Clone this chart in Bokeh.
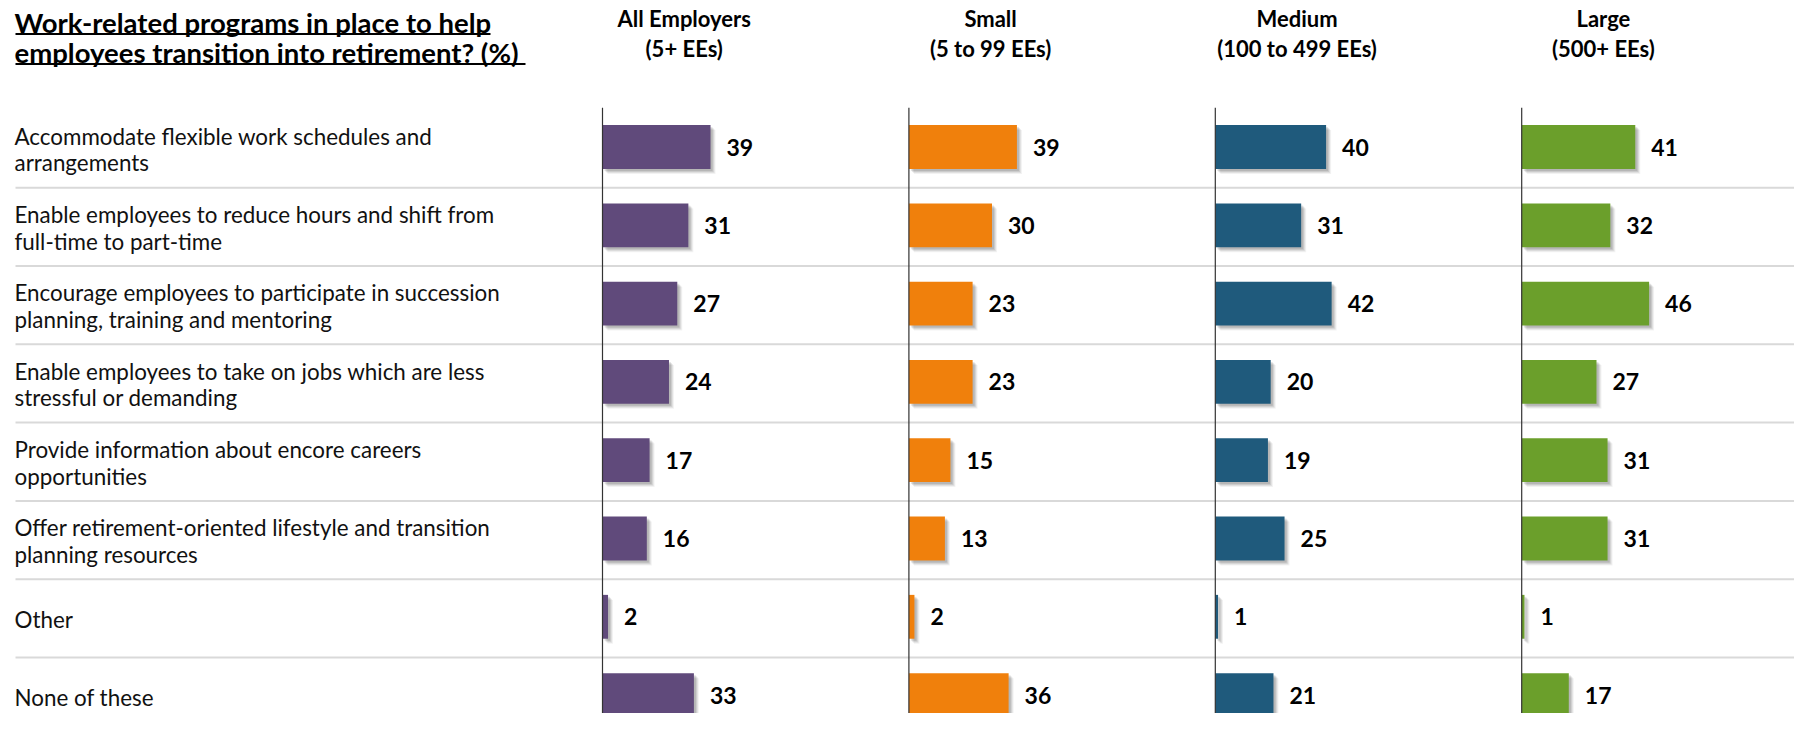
from bokeh.plotting import figure
from bokeh.models import Range1d, ColumnDataSource
from bokeh.embed import file_html
from bokeh.resources import INLINE
from bokeh.core.properties import value

# ---------------- data ----------------
title_lines = ["Work-related programs in place to help",
               "employees transition into retirement? (%)"]
categories = [
    "Accommodate flexible work schedules and\narrangements",
    "Enable employees to reduce hours and shift from\nfull-time to part-time",
    "Encourage employees to participate in succession\nplanning, training and mentoring",
    "Enable employees to take on jobs which are less\nstressful or demanding",
    "Provide information about encore careers\nopportunities",
    "Offer retirement-oriented lifestyle and transition\nplanning resources",
    "Other",
    "None of these",
]
group_names = ["All Employers", "Small", "Medium", "Large"]
group_sizes = ["(5+ EEs)", "(5 to 99 EEs)", "(100 to 499 EEs)", "(500+ EEs)"]
all_employers = [39, 31, 27, 24, 17, 16, 2, 33]
small = [39, 30, 23, 23, 15, 13, 2, 36]
medium = [40, 31, 42, 20, 19, 25, 1, 21]
large = [41, 32, 46, 27, 31, 31, 1, 17]
series = [all_employers, small, medium, large]
colors = ["#604A7B", "#F0800C", "#1F5A7C", "#6B9F2B"]

# ---------------- layout constants (pixels of the picture) ----------------
W, H = 1794, 713
ROW0, ROW_H = 146.5, 78.3
PX_UNIT = 2.77
AXIS0, STEP = 602.0, 306.4
BAR_H = 0.56
FONT = "Lato"


def ry(px):
    return (px - ROW0) / ROW_H


p = figure(width=W, height=H, output_backend="svg", toolbar_location=None,
           x_range=Range1d(0, W), y_range=Range1d(ry(H), ry(0)),
           min_border=0, min_border_left=0, min_border_right=0,
           min_border_top=0, min_border_bottom=0)
p.axis.visible = False
p.grid.visible = False
p.outline_line_color = None
p.background_fill_color = "white"
p.border_fill_color = "white"

rows = list(range(len(categories)))

# separators
seps = rows[:-1]
p.segment(x0=15, x1=W, y0=[r + 0.52 for r in seps], y1=[r + 0.52 for r in seps],
          line_color="#D9D9D9", line_width=2)

# title with underline
p.text(x=14, y=[ry(22), ry(52)], text=title_lines, text_font=value(FONT),
       text_font_style="bold", text_font_size="27.5px", text_baseline="middle",
       text_color="black")
p.segment(x0=15, x1=[490, 525], y0=[ry(33.5), ry(63.5)], y1=[ry(33.5), ry(63.5)],
          line_color="black", line_width=2)

# category labels
lx, ly, lt = [], [], []
for r, cat in zip(rows, categories):
    lines = cat.split("\n")
    n = len(lines)
    for j, ln in enumerate(lines):
        lx.append(14)
        ly.append(r + (2.5 + (j - (n - 1) / 2) * 26.7) / ROW_H)
        lt.append(ln)
p.text(x=lx, y=ly, text=lt, text_font=value(FONT), text_font_size="22.4px",
       text_baseline="middle", text_color="#111111")

# panels
for k, (name, size, vals, col) in enumerate(zip(group_names, group_sizes, series, colors)):
    a = AXIS0 + k * STEP
    rname = "g%d" % k
    p.extra_x_ranges[rname] = Range1d(-a / PX_UNIT, (W - a) / PX_UNIT)
    src = ColumnDataSource(dict(y=rows, v=vals, lab=[str(v) for v in vals]))
    # soft shadow
    for d, al in [(5, 0.05), (4, 0.07), (3, 0.09), (2, 0.10)]:
        p.hbar(y=[r + d / ROW_H for r in rows], left=d / PX_UNIT,
               right=[v + d / PX_UNIT for v in vals], height=BAR_H,
               fill_color="black", fill_alpha=al, line_color=None, x_range_name=rname)
    p.hbar(y="y", left=0, right="v", height=BAR_H, source=src, fill_color=col,
           line_color=None, x_range_name=rname)
    p.text(x="v", y="y", text="lab", source=src, x_offset=16,
           text_font=value(FONT), text_font_style="bold", text_font_size="23px",
           text_baseline="middle", text_color="black", x_range_name=rname)
    # vertical axis line
    p.segment(x0=0, x1=0, y0=-0.5, y1=ry(H), line_color="#333333", line_width=1.2,
              x_range_name=rname)
    # headers
    p.text(x=29.5, y=[ry(17.5), ry(48)], text=[name, size], text_font=value(FONT),
           text_font_style="bold", text_font_size="22px", text_align="center",
           text_baseline="middle", text_color="black", x_range_name=rname)

open("out.html", "w").write(file_html(p, INLINE))
